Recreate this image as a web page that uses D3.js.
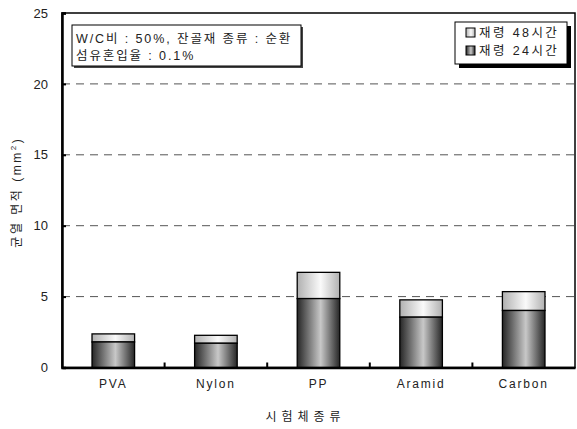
<!DOCTYPE html>
<html><head><meta charset="utf-8">
<script src="https://cdn.jsdelivr.net/npm/d3@7"></script>
<style>body{margin:0;background:#fff}svg{display:block}text{font-family:Arial,"Liberation Sans","Noto Sans CJK KR",sans-serif;fill:#222}</style>
</head><body>
<script>
const categories = ["PVA","Nylon","PP","Aramid","Carbon"];
const age24 = [1.80, 1.71, 4.86, 3.55, 4.02];
const age48 = [2.37, 2.27, 6.71, 4.77, 5.35];
const yTicks = [0,5,10,15,20,25];
const seriesNames = ["재령 48시간","재령 24시간"];
const noteLines = ["W/C비 : 50%, 잔골재 종류 : 순환","섬유혼입율 : 0.1%"];
const xTitle = "시험체종류";
const yTitle = "균열 면적 (mm";

const W=577,H=429, L=62, R=575, T=13, B=367.5;
const svg=d3.select("body").append("svg").attr("width",W).attr("height",H);
const defs=svg.append("defs");
function grad(id,edge,mid){
  const g=defs.append("linearGradient").attr("id",id).attr("x1","0").attr("x2","1").attr("y1","0").attr("y2","0");
  g.append("stop").attr("offset","0%").attr("stop-color",edge);
  g.append("stop").attr("offset","55%").attr("stop-color",mid);
  g.append("stop").attr("offset","100%").attr("stop-color",edge);
}
grad("gDark","#262626","#c8c8c8");
grad("gLight","#b0b0b0","#fafafa");

const x=d3.scaleBand().domain(categories).range([L,R]).paddingInner(0.585).paddingOuter(0.2925);
const y=d3.scaleLinear().domain([0,25]).range([B,T]);

// gridlines
svg.append("g").selectAll("line").data(yTicks.filter(v=>v>0&&v<25)).join("line")
  .attr("x1",L).attr("x2",R).attr("y1",d=>y(d)).attr("y2",d=>y(d))
  .attr("stroke","#555").attr("stroke-width",1).attr("stroke-dasharray","8,6");

// frame
svg.append("rect").attr("x",L).attr("y",T).attr("width",R-L).attr("height",B-T)
  .attr("fill","none").attr("stroke","#000").attr("stroke-width",1.5);

// bars
const idx=d3.range(categories.length);
svg.append("g").selectAll("rect").data(idx).join("rect")
  .attr("x",i=>x(categories[i])).attr("width",x.bandwidth())
  .attr("y",i=>y(age48[i])).attr("height",i=>y(age24[i])-y(age48[i]))
  .attr("fill","url(#gLight)").attr("stroke","#000").attr("stroke-width",1.3);
svg.append("g").selectAll("rect").data(idx).join("rect")
  .attr("x",i=>x(categories[i])).attr("width",x.bandwidth())
  .attr("y",i=>y(age24[i])).attr("height",i=>y(0)-y(age24[i]))
  .attr("fill","url(#gDark)").attr("stroke","#000").attr("stroke-width",1.3);

// y axis
const yAxis=d3.axisLeft(y).tickValues(yTicks).tickSize(-4).tickPadding(14);
const ya=svg.append("g").attr("transform",`translate(${L},0)`).call(yAxis);
ya.select(".domain").attr("stroke","#000").attr("stroke-width",2.5);
ya.selectAll(".tick line").attr("stroke","#000").attr("stroke-width",2);
ya.selectAll(".tick text").attr("font-size",13).attr("fill","#333").style("font-family","Arial,'Liberation Sans',sans-serif");

// x axis
const xa=svg.append("g").attr("transform",`translate(0,${B})`).call(d3.axisBottom(x).tickSize(0).tickPadding(12));
xa.select(".domain").attr("stroke","#000").attr("stroke-width",2.5);
xa.selectAll(".tick text").attr("font-size",12).attr("fill","#333").attr("letter-spacing","1.8px").style("font-family","Arial,'Liberation Sans',sans-serif");
// separators between categories
svg.append("g").selectAll("line").data(categories.slice(1)).join("line")
  .attr("x1",d=>x(d)-x.step()*x.paddingInner()/2).attr("x2",d=>x(d)-x.step()*x.paddingInner()/2)
  .attr("y1",B).attr("y2",B-5).attr("stroke","#000").attr("stroke-width",2);

// axis titles
svg.append("text").attr("x",(L+R)/2-13).attr("y",421).attr("text-anchor","middle")
  .attr("font-size",12).attr("letter-spacing","5px").attr("fill","#333").text(xTitle);
const yt=svg.append("text").attr("transform",`translate(21,${(T+B)/2+2}) rotate(-90)`).attr("text-anchor","middle").attr("font-size",12).attr("letter-spacing","2.5px").attr("fill","#333");
yt.append("tspan").text(yTitle);
yt.append("tspan").attr("font-size",8).attr("dy",-5).text("2");
yt.append("tspan").attr("dy",5).text(")");

// note box
const nb={x:72,y:25,w:229,h:41};
svg.append("rect").attr("x",nb.x+2).attr("y",nb.y+2).attr("width",nb.w).attr("height",nb.h).attr("fill","#444");
svg.append("rect").attr("x",nb.x).attr("y",nb.y).attr("width",nb.w).attr("height",nb.h).attr("fill","#fff").attr("stroke","#000").attr("stroke-width",1);
svg.append("g").selectAll("text").data(noteLines).join("text")
  .attr("x",nb.x+4).attr("y",(d,i)=>nb.y+18+i*17).attr("font-size",12.5).attr("letter-spacing","1.9px").text(d=>d);

// legend
const lb={x:455,y:22,w:112,h:42};
svg.append("rect").attr("x",lb.x+4).attr("y",lb.y+4).attr("width",lb.w).attr("height",lb.h).attr("fill","#000");
svg.append("rect").attr("x",lb.x).attr("y",lb.y).attr("width",lb.w).attr("height",lb.h).attr("fill","#fff").attr("stroke","#000").attr("stroke-width",1);
const fills=["url(#gLight)","url(#gDark)"];
const lg=svg.append("g").selectAll("g").data(seriesNames).join("g")
  .attr("transform",(d,i)=>`translate(${lb.x+11},${lb.y+6+i*18})`);
lg.append("rect").attr("width",9).attr("height",9).attr("fill",(d,i)=>fills[i]).attr("stroke","#000").attr("stroke-width",1);
lg.append("text").attr("x",13).attr("y",9).attr("font-size",12.5).attr("letter-spacing","2.4px").text(d=>d);
</script>
</body></html>
